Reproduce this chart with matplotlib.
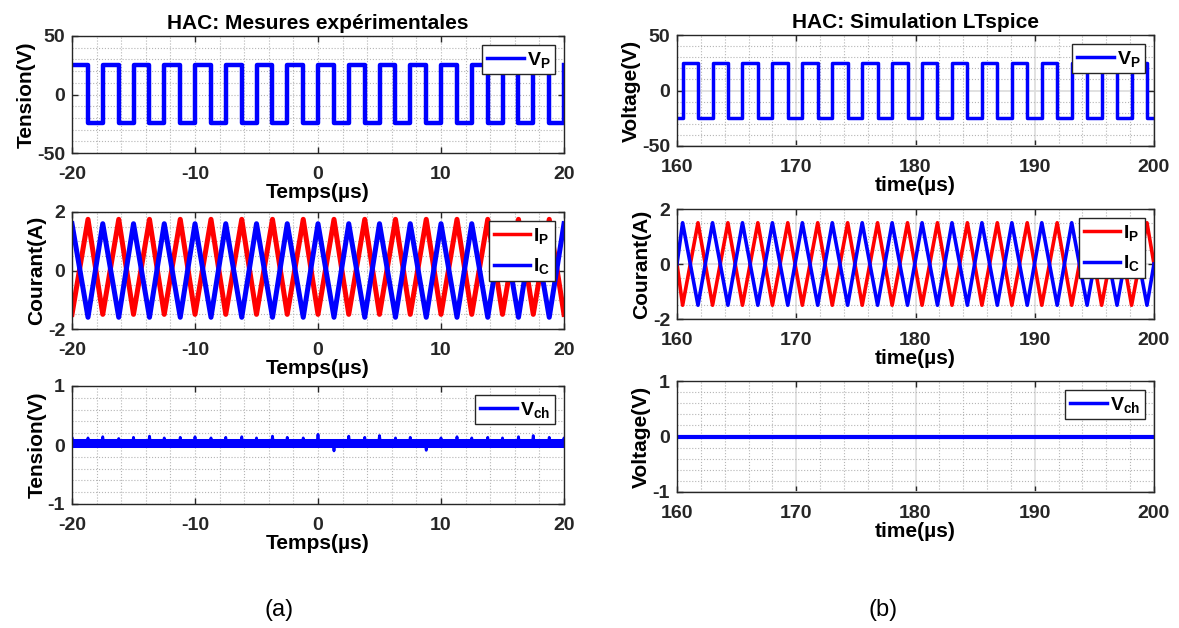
import matplotlib
matplotlib.use("Agg")
import matplotlib.pyplot as plt
from matplotlib.ticker import MultipleLocator

plt.rcParams['font.family'] = ['Liberation Sans', 'DejaVu Sans']
plt.rcParams['font.weight'] = 'bold'
plt.rcParams['axes.labelweight'] = 'bold'
plt.rcParams['axes.titleweight'] = 'bold'
plt.rcParams['axes.unicode_minus'] = False
plt.rcParams['mathtext.fontset'] = 'custom'
plt.rcParams['mathtext.bf'] = 'Liberation Sans:bold'
plt.rcParams['mathtext.rm'] = 'Liberation Sans:bold'
plt.rcParams['mathtext.it'] = 'Liberation Sans:bold'

# ---- (a) experimental measurements, time in us ----
exp_rise = [-20.0, -17.5, -15.0, -12.5, -10.0, -7.5, -5.0, -2.5, 0.0,
            2.5, 5.0, 7.5, 10.0, 12.5, 15.0, 17.5, 20.0]
exp_fall = [-18.7, -16.2, -13.7, -11.2, -8.7, -6.2, -3.7, -1.2, 1.3,
            3.8, 6.3, 8.8, 11.3, 13.8, 16.3, 18.8]
exp_vp_high, exp_vp_low = 25.0, -24.5
exp_ip_peak, exp_ip_valley = 1.75, -1.5
exp_ic_peak, exp_ic_valley = 1.6, -1.6
exp_vch_level = 0.03
# small spikes on V_ch at each switching edge (sorted edge order)
exp_vch_spike = [0.13, 0.12, 0.14, 0.11, 0.13, 0.15, 0.12, 0.13, 0.14, 0.12,
                 0.13, 0.14, 0.12, 0.15, 0.13, 0.12, 0.18, -0.10, 0.15, 0.13,
                 0.16, 0.12, 0.13, -0.09, 0.12, 0.14, 0.12, 0.13, 0.12, 0.14,
                 0.16, 0.13, 0.12]

# ---- (b) LTspice simulation, time in us ----
sim_rise = [160.47, 162.98, 165.49, 168.00, 170.51, 173.02, 175.53, 178.04,
            180.55, 183.06, 185.57, 188.08, 190.59, 193.10, 195.61, 198.12]
sim_fall = [161.76, 164.27, 166.78, 169.29, 171.80, 174.31, 176.82, 179.33,
            181.84, 184.35, 186.86, 189.37, 191.88, 194.39, 196.90, 199.41]
sim_vp_high, sim_vp_low = 24.5, -24.5
sim_i_peak, sim_i_valley = 1.5, -1.5
sim_vch_t = [160.0, 200.0]
sim_vch_v = [0.0, 0.0]


def edges(rise, fall):
    return sorted([(t, 1) for t in rise] + [(t, 0) for t in fall])


def square(rise, fall, hi, lo, t0, t1, v0):
    ts, vs = [t0], [v0]
    for t, up in edges(rise, fall):
        ts += [t, t]
        vs += [lo, hi] if up else [hi, lo]
    ts.append(t1)
    vs.append(vs[-1])
    return ts, vs


def triangle(rise, fall, v_rise, v_fall, start=None, end=None):
    ts, vs = [], []
    if start is not None:
        ts.append(start[0]); vs.append(start[1])
    for t, up in edges(rise, fall):
        ts.append(t)
        vs.append(v_rise if up else v_fall)
    if end is not None:
        ts.append(end[0]); vs.append(end[1])
    return ts, vs


def spikes(rise, fall, base, heights):
    ts, vs = [], []
    for (t, _), h in zip(edges(rise, fall), heights):
        ts += [t - 0.08, t, t + 0.08]
        vs += [base, h, base]
    return ts, vs


def style(ax, xlim, ylim, ymaj, ymin, sim):
    ax.set_xlim(*xlim)
    ax.set_ylim(*ylim)
    ax.xaxis.set_major_locator(MultipleLocator(10))
    ax.xaxis.set_minor_locator(MultipleLocator(2))
    ax.yaxis.set_major_locator(MultipleLocator(ymaj))
    ax.yaxis.set_minor_locator(MultipleLocator(ymin))
    ax.grid(which='minor', linestyle=':', color='#b5b5b5', linewidth=0.8)
    if sim:
        ax.grid(which='major', linestyle='-', color='#dedede', linewidth=1.3)
    else:
        ax.grid(which='major', linestyle=':', color='#b5b5b5', linewidth=0.8)
    ax.set_axisbelow(True)
    ax.tick_params(which='both', direction='in', top=True, right=True)
    ax.tick_params(which='minor', length=0)
    ax.tick_params(which='major', length=4, width=1, labelsize=14,
                   colors='#262626')
    ax.tick_params(axis='x', which='major', pad=9.5)
    ax.tick_params(axis='y', which='major', pad=5)
    for s in ax.spines.values():
        s.set_color('#262626')
        s.set_linewidth(1)


def legend(ax):
    leg = ax.legend(loc='upper right', fontsize=14, fancybox=False,
                    edgecolor='#262626', framealpha=1, borderaxespad=0.45,
                    handlelength=1.9, handletextpad=0.15, borderpad=0.25,
                    labelspacing=0.55)
    leg.get_frame().set_linewidth(1)
    for line in leg.get_lines():
        line.set_linewidth(2.5)


fig = plt.figure(figsize=(11.79, 6.28), dpi=100)
W, H = 1179.0, 628.0


def add_axes(x0, x1, y0, y1):
    return fig.add_axes([x0 / W, 1 - y1 / H, (x1 - x0) / W, (y1 - y0) / H])


# left column
ax1 = add_axes(72, 564, 36, 153)
ax2 = add_axes(72, 564, 212, 329)
ax3 = add_axes(72, 564, 386, 504)
# right column
ax4 = add_axes(677, 1154, 35, 146)
ax5 = add_axes(677, 1154, 209, 319)
ax6 = add_axes(677, 1154, 381, 492)

# --- experimental ---
t, v = square(exp_rise[1:], exp_fall, exp_vp_high, exp_vp_low, -20, 20, exp_vp_high)
ax1.plot(t, v, color='blue', lw=3.2, label=r'$\mathbf{V_P}$')
style(ax1, (-20, 20), (-50, 50), 50, 10, False)
ax1.set_title('HAC: Mesures expérimentales', fontsize=15, pad=5)
ax1.set_ylabel('Tension(V)', fontsize=15, labelpad=1)
ax1.set_xlabel('Temps(µs)', fontsize=15, labelpad=0)
legend(ax1)

t, v = triangle(exp_rise, exp_fall, exp_ip_valley, exp_ip_peak)
ax2.plot(t, v, color='red', lw=3.6, label=r'$\mathbf{I_P}$')
t, v = triangle(exp_rise, exp_fall, exp_ic_peak, exp_ic_valley)
ax2.plot(t, v, color='blue', lw=3.6, label=r'$\mathbf{I_C}$')
style(ax2, (-20, 20), (-2, 2), 2, 0.5, False)
ax2.set_ylabel('Courant(A)', fontsize=15, labelpad=1)
ax2.set_xlabel('Temps(µs)', fontsize=15, labelpad=0)
legend(ax2)

ax3.plot([-20, 20], [exp_vch_level, exp_vch_level], color='blue', lw=6.5,
         label=r'$\mathbf{V_{ch}}$')
t, v = spikes(exp_rise, exp_fall, exp_vch_level, exp_vch_spike)
ax3.plot(t, v, color='blue', lw=2.0)
style(ax3, (-20, 20), (-1, 1), 1, 0.2, False)
ax3.set_ylabel('Tension(V)', fontsize=15, labelpad=1)
ax3.set_xlabel('Temps(µs)', fontsize=15, labelpad=0)
legend(ax3)

# --- simulation ---
t, v = square(sim_rise, sim_fall, sim_vp_high, sim_vp_low, 160, 200, sim_vp_low)
ax4.plot(t, v, color='blue', lw=2.5, label=r'$\mathbf{V_P}$')
style(ax4, (160, 200), (-50, 50), 50, 10, True)
ax4.set_title('HAC: Simulation LTspice', fontsize=15, pad=5)
ax4.set_ylabel('Voltage(V)', fontsize=15, labelpad=1)
ax4.set_xlabel('time(µs)', fontsize=15, labelpad=0)
legend(ax4)

t, v = triangle(sim_rise, sim_fall, sim_i_valley, sim_i_peak, (160, 0), (200, 0))
ax5.plot(t, v, color='red', lw=2.6, label=r'$\mathbf{I_P}$')
t, v = triangle(sim_rise, sim_fall, sim_i_peak, sim_i_valley, (160, 0), (200, 0))
ax5.plot(t, v, color='blue', lw=2.6, label=r'$\mathbf{I_C}$')
style(ax5, (160, 200), (-2, 2), 2, 0.5, True)
ax5.set_ylabel('Courant(A)', fontsize=15, labelpad=1)
ax5.set_xlabel('time(µs)', fontsize=15, labelpad=0)
legend(ax5)

ax6.plot(sim_vch_t, sim_vch_v, color='blue', lw=3, label=r'$\mathbf{V_{ch}}$')
style(ax6, (160, 200), (-1, 1), 1, 0.2, True)
ax6.set_ylabel('Voltage(V)', fontsize=15, labelpad=1)
ax6.set_xlabel('time(µs)', fontsize=15, labelpad=0)
legend(ax6)

fig.text(279 / W, 1 - 610 / H, '(a)', ha='center', va='center',
         fontsize=17, fontweight='normal')
fig.text(883 / W, 1 - 610 / H, '(b)', ha='center', va='center',
         fontsize=17, fontweight='normal')

fig.savefig('out.png', dpi=100)
